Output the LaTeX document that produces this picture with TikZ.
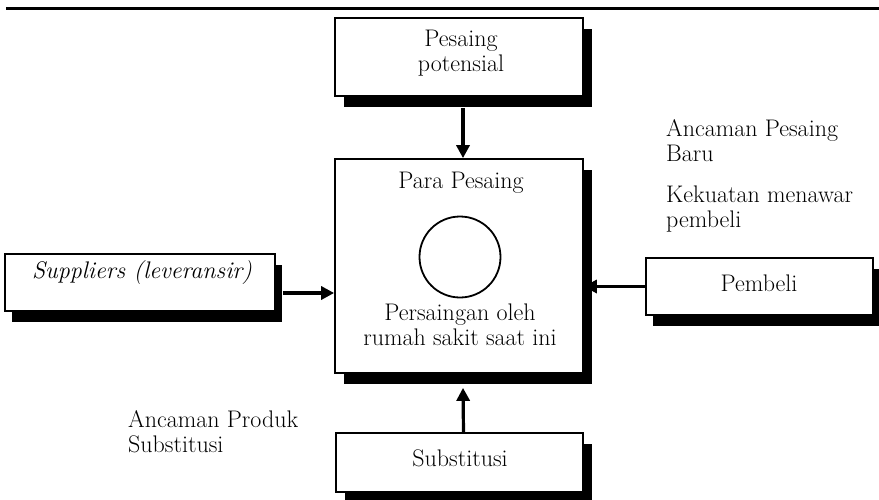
\documentclass[tikz,border=0pt]{standalone}
\usetikzlibrary{shadows,arrows.meta}
\begin{document}
\begin{tikzpicture}[x=1pt,y=-1pt,
  txt/.style={font=\fontsize{24}{25}\selectfont, align=center, inner sep=0pt},
  note/.style={font=\fontsize{24}{25}\selectfont, align=left, inner sep=0pt, anchor=west},
  card/.style={draw, line width=1.7pt, fill=white, rectangle, inner sep=0pt,
    drop shadow={shadow xshift=#1pt, shadow yshift=-11pt, fill=black, opacity=1}},
  card/.default=9,
  arr/.style={line width=3.2pt, -{Triangle[length=13pt,width=13pt]}}]
\useasboundingbox (0,0) rectangle (879,499);

% heading rule
\draw[line width=2.8pt] (6,8.5) -- (879,8.5);

% boxes
\node[card, minimum width=248pt, minimum height=78pt] (pot) at (459,57) {};
\node[card, minimum width=248pt, minimum height=214pt] (para) at (459,266) {};
\node[card=7, minimum width=270pt, minimum height=57pt] (sup) at (140,282.5) {};
\node[card=7, minimum width=227pt, minimum height=57pt] (pem) at (759.5,286.5) {};
\node[card, minimum width=247pt, minimum height=59pt] (sub) at (459.5,462.5) {};

% box texts
\node[txt] (pottxt) at (461,53) {Pesaing\\potensial};
\node[txt] (paratxt) at (461,183) {Para Pesaing};
\node[draw, circle, line width=1.8pt, minimum size=81pt, inner sep=0pt] (ring) at (460,257) {};
\node[txt] (paranow) at (460,325) {Persaingan oleh\\rumah sakit saat ini};
\node[txt] (suptxt) at (142,273) {\itshape Suppliers (leveransir)};
\node[txt] (pemtxt) at (759,283) {Pembeli};
\node[txt] (subtxt) at (460,458) {Substitusi};

% side notes
\node[note] (baru) at (666,140.5) {Ancaman Pesaing\\Baru};
\node[note] (tawar) at (666,209.5) {Kekuatan menawar\\pembeli};
\node[note] (prod) at (128,431.5) {Ancaman Produk\\Substitusi};

% forces acting on the competitors
\draw[arr] ([xshift=4pt,yshift=-11pt]pot.south) -- ([xshift=4pt]para.north);
\draw[arr] ([xshift=7pt,yshift=-10.5pt]sup.east) -- ([yshift=-10.5pt]sup.east -| para.west);
\draw[arr] (pem.west) -- (pem.west -| para.east);
\draw[arr] ([xshift=4pt]sub.north) -- ([xshift=4pt,yshift=-14pt]para.south);
\end{tikzpicture}
\end{document}
